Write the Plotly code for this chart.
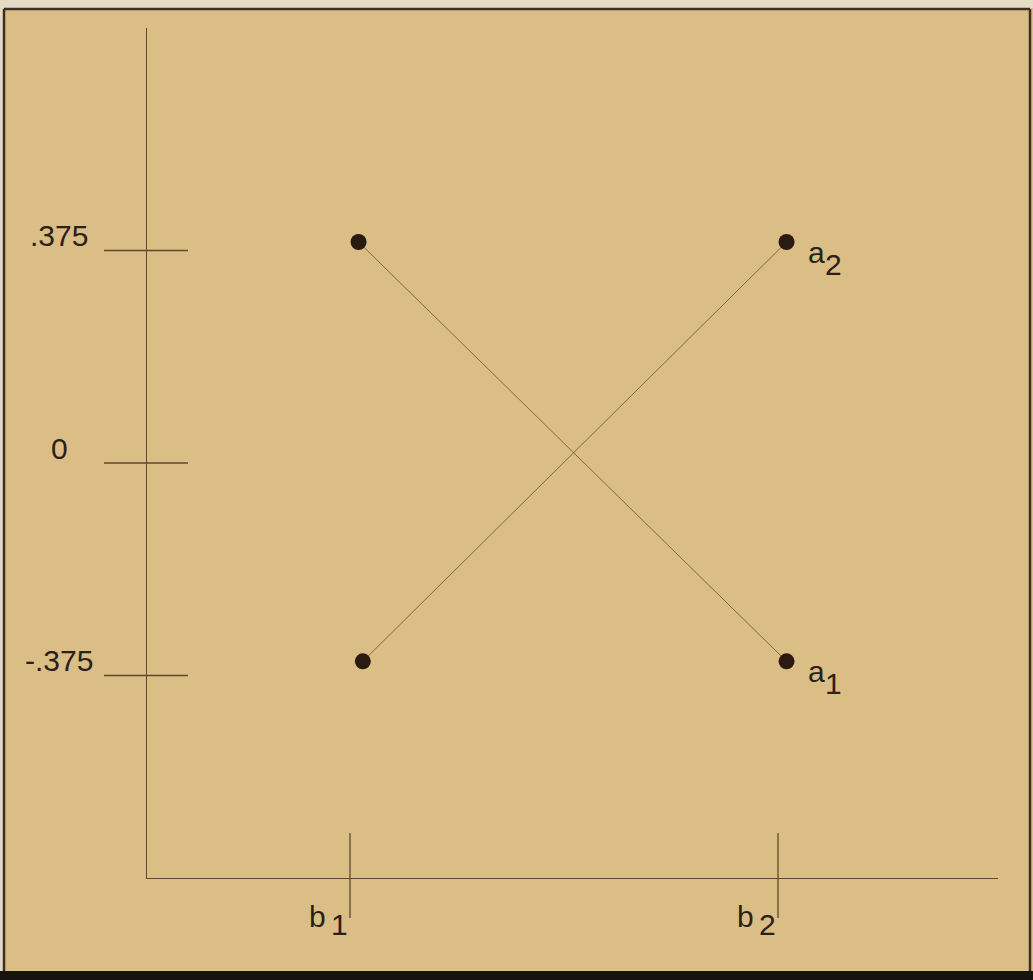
import plotly.graph_objects as go

# ---- data ----
x_categories = ["b1", "b2"]
x_values = [1, 2]
x_label_main = ["b", "b"]
x_label_sub = ["1", "2"]

a1_x = [1.02, 2.02]
a1_y = [0.39, -0.35]
a2_x = [1.03, 2.02]
a2_y = [-0.35, 0.39]
series_main = ["a", "a"]
series_sub = ["1", "2"]

y_tick_vals = [0.375, 0, -0.375]
y_tick_text = [".375", "0", "-.375"]

# ---- layout geometry (pixels) ----
W, H = 1033, 980
L, R, T, B = 147, 35, 28, 102
PW, PH = W - L - R, H - T - B
X_UNIT_PX, X_REF_PX = 428.0, 350.0      # b1 tick at px 350, 428 px per unit
Y_UNIT_PX, Y_ZERO_PX = 566.67, 463.0    # zero at px 463

def xr(px):
    return 1 + (px - X_REF_PX) / X_UNIT_PX

def yr(py):
    return (Y_ZERO_PX - py) / Y_UNIT_PX

def px_x(px):
    return (px - L) / PW

def px_y(py):
    return (H - B - py) / PH

BG = "#DBBE85"
AX = "#5a4a30"
LN = "#7a6848"
MK = "#2a1a10"
TXT = "#2b2118"
FONT = "Liberation Sans, Arial, sans-serif"
FS = 30

fig = go.Figure()
for xs, ys in [(a1_x, a1_y), (a2_x, a2_y)]:
    fig.add_trace(go.Scatter(
        x=xs, y=ys, mode="lines+markers",
        line=dict(color=LN, width=1),
        marker=dict(size=16, color=MK),
        showlegend=False, hoverinfo="skip", cliponaxis=False))

shapes = []
# background strips and border
shapes.append(dict(type="rect", xref="paper", yref="paper", x0=px_x(0), x1=px_x(W),
                   y0=px_y(0), y1=px_y(8), fillcolor="#E6DCC6", line_width=0, layer="below"))
shapes.append(dict(type="rect", xref="paper", yref="paper", x0=px_x(0), x1=px_x(3),
                   y0=px_y(0), y1=px_y(H), fillcolor="#E6DCC6", line_width=0, layer="below"))
shapes.append(dict(type="rect", xref="paper", yref="paper", x0=px_x(0), x1=px_x(W),
                   y0=px_y(971), y1=px_y(H), fillcolor="#161412", line_width=0))
for (x0, y0, x1, y1) in [(4, 9, 1030, 9), (4, 9, 4, 971), (1030, 9, 1030, 971)]:
    shapes.append(dict(type="line", xref="paper", yref="paper",
                       x0=px_x(x0), y0=px_y(y0), x1=px_x(x1), y1=px_y(y1),
                       line=dict(color="#3a3028", width=2.5)))
# y ticks crossing the axis
for v in y_tick_vals:
    shapes.append(dict(type="line", xref="paper", yref="y",
                       x0=px_x(104), x1=px_x(188), y0=v, y1=v,
                       line=dict(color=AX, width=1.3)))
# x ticks crossing the axis
for v in x_values:
    shapes.append(dict(type="line", xref="x", yref="paper",
                       x0=v, x1=v, y0=px_y(833), y1=px_y(918),
                       line=dict(color=AX, width=1.3)))

annotations = []
for v, t in zip(y_tick_vals, y_tick_text):
    annotations.append(dict(xref="paper", yref="y", x=px_x(59), y=v, text=t,
                            showarrow=False, xanchor="center", yanchor="middle",
                            yshift=15, font=dict(family=FONT, size=FS, color=TXT)))
for v, m, s in zip(x_values, x_label_main, x_label_sub):
    annotations.append(dict(xref="x", yref="paper", x=v, y=px_y(916), text=m,
                            showarrow=False, xanchor="center", yanchor="middle",
                            xshift=-33, font=dict(family=FONT, size=FS, color=TXT)))
    annotations.append(dict(xref="x", yref="paper", x=v, y=px_y(925), text=s,
                            showarrow=False, xanchor="center", yanchor="middle",
                            xshift=-11, font=dict(family=FONT, size=FS, color=TXT)))
# series labels at the right-hand end points
for xs, ys, m, s in [(a1_x, a1_y, series_main[0], series_sub[0]),
                     (a2_x, a2_y, series_main[1], series_sub[1])]:
    annotations.append(dict(xref="x", yref="y", x=xs[-1], y=ys[-1], text=m,
                            showarrow=False, xanchor="center", yanchor="middle",
                            xshift=30, yshift=-10, font=dict(family=FONT, size=FS, color=TXT)))
    annotations.append(dict(xref="x", yref="y", x=xs[-1], y=ys[-1], text=s,
                            showarrow=False, xanchor="center", yanchor="middle",
                            xshift=47, yshift=-22, font=dict(family=FONT, size=FS, color=TXT)))

axis_common = dict(showgrid=False, zeroline=False, showticklabels=False, ticks="",
                   showline=True, linecolor=AX, linewidth=1.3, mirror=False, fixedrange=True)

fig.update_layout(
    width=W, height=H, autosize=False,
    margin=dict(l=L, r=R, t=T, b=B, pad=0),
    paper_bgcolor=BG, plot_bgcolor=BG,
    xaxis=dict(range=[xr(L), xr(L + PW)], **axis_common),
    yaxis=dict(range=[yr(H - B), yr(T)], **axis_common),
    shapes=shapes, annotations=annotations,
)

fig.write_html("out.html", config={"displayModeBar": False},
               post_script="document.body.style.margin='0';document.body.style.overflow='hidden';")
